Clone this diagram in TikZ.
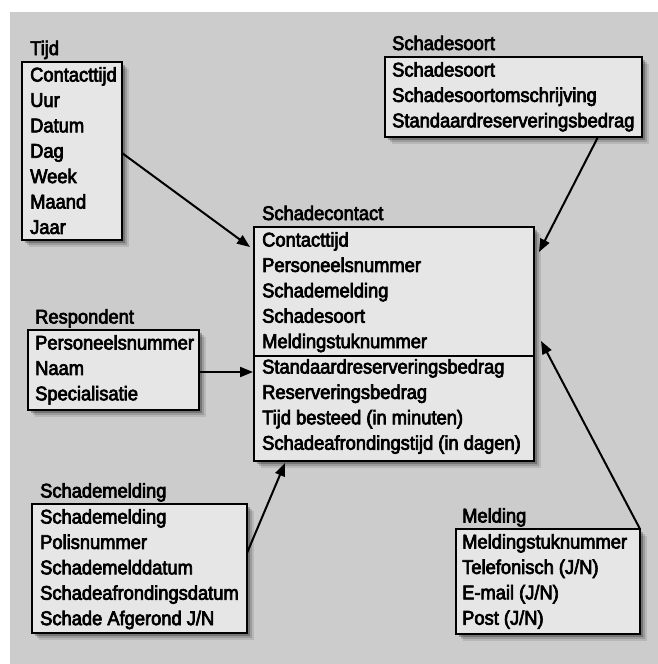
\documentclass[tikz,border=0pt]{standalone}
\usepackage{fontspec}
\newfontfamily\diagfont{Liberation Sans}[FakeBold=3.5, FakeStretch=0.925]
\usetikzlibrary{arrows.meta,shadows,calc}
\definecolor{panelgray}{RGB}{204,204,204}
\definecolor{boxgray}{RGB}{230,230,230}

\begin{document}
\begin{tikzpicture}[x=1pt,y=-1pt,
  entity/.style={draw=black, line width=1.4pt, fill=boxgray, inner sep=0pt, outer sep=0pt,
    anchor=north west,
    drop shadow={shadow xshift=7pt, shadow yshift=-7pt, fill=black, opacity=0.10},
    drop shadow={shadow xshift=5pt, shadow yshift=-5pt, fill=black, opacity=0.15},
    drop shadow={shadow xshift=3pt, shadow yshift=-3pt, fill=black, opacity=0.25}},
  rows/.style={align=left, inner sep=0pt, anchor=base west,
    font=\diagfont\fontsize{19.8}{25.4}\selectfont},
  title/.style={inner sep=0pt, anchor=base west,
    font=\diagfont\fontsize{19.8}{25.4}\selectfont},
  link/.style={line width=2pt, -{Triangle[length=13pt,width=10pt]}}
]
% canvas and grey panel
\useasboundingbox (0,0) rectangle (658,664);
\fill[white] (0,0) rectangle (658,664);
\fill[panelgray] (10,12) rectangle (658,664);

% entity boxes
\node[entity, minimum width=100, minimum height=178] (tijd) at (22,62) {};
\node[entity, minimum width=257, minimum height=80] (soort) at (385,57) {};
\node[entity, minimum width=280, minimum height=234] (contact) at (254,227) {};
\node[entity, minimum width=171, minimum height=80] (resp) at (28,330) {};
\node[entity, minimum width=215, minimum height=129] (schade) at (32,504) {};
\node[entity, minimum width=184, minimum height=105] (meld) at (456,529) {};

% separator between keys and measures
\draw[line width=1.4pt] ($(contact.north west)+(0,129)$) -- ($(contact.north east)+(0,129)$);

% titles
\node[title] (tijd-title) at (30,55) {Tijd};
\node[title] (soort-title) at (392,50) {Schadesoort};
\node[title] (contact-title) at (262,220) {Schadecontact};
\node[title] (resp-title) at (35,323.5) {Respondent};
\node[title] (schade-title) at (40,497.5) {Schademelding};
\node[title] (meld-title) at (462,522.5) {Melding};

% attributes (anchored on the baseline of the last line)
\node[rows] (tijd-rows) at (30,233.9)
  {Contacttijd\\Uur\\Datum\\Dag\\Week\\Maand\\Jaar};
\node[rows] (soort-rows) at (392,127.3)
  {Schadesoort\\Schadesoortomschrijving\\Standaardreserveringsbedrag};
\node[rows] (contact-rows) at (262,449.7)
  {Contacttijd\\Personeelsnummer\\Schademelding\\Schadesoort\\Meldingstuknummer\\
   Standaardreserveringsbedrag\\Reserveringsbedrag\\Tijd besteed (in minuten)\\
   Schadeafrondingstijd (in dagen)};
\node[rows] (resp-rows) at (35,400.3)
  {Personeelsnummer\\Naam\\Specialisatie};
\node[rows] (schade-rows) at (40,625.1)
  {Schademelding\\Polisnummer\\Schademelddatum\\Schadeafrondingsdatum\\Schade Afgerond J/N};
\node[rows] (meld-rows) at (462,624.7)
  {Meldingstuknummer\\Telefonisch (J/N)\\E-mail (J/N)\\Post (J/N)};

% connector end points
\coordinate (tijd-out) at ($(tijd.north east)+(0,91)$);
\coordinate (tijd-in) at ($(contact.north west)+(-4,20)$);
\coordinate (soort-out) at ($(soort.south west)+(213,0)$);
\coordinate (soort-in) at ($(contact.north east)+(5,25)$);
\coordinate (resp-out) at ($(resp.north east)+(0,42)$);
\coordinate (resp-in) at ($(contact.north west)+(-1,145)$);
\coordinate (schade-out) at ($(schade.north east)+(0,49)$);
\coordinate (schade-in) at ($(contact.south west)+(31,2)$);
\coordinate (meld-in) at ($(contact.north east)+(7,114)$);

% connectors
\draw[link] (tijd-out) -- (tijd-in);
\draw[link] (soort-out) -- (soort-in);
\draw[link] (resp-out) -- (resp-in);
\draw[link] (schade-out) -- (schade-in);
\draw[link] (meld.north east) -- (meld-in);
\end{tikzpicture}
\end{document}
